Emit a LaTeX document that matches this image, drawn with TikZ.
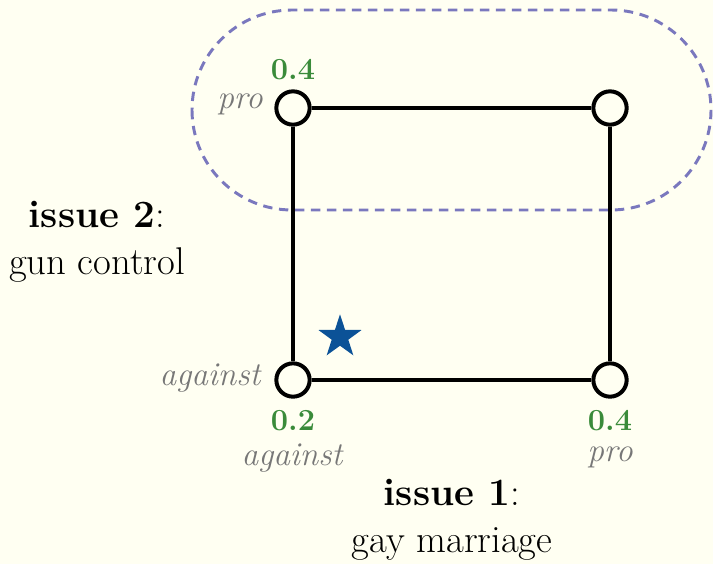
\documentclass[tikz,border=0pt]{standalone}
\usetikzlibrary{shapes.geometric}
\definecolor{bgc}{HTML}{FFFFF2}
\definecolor{grn}{HTML}{3A8B3A}
\definecolor{gry}{HTML}{777777}
\definecolor{dsh}{HTML}{7A78BE}
\definecolor{strc}{HTML}{0B5297}
\begin{document}
\begin{tikzpicture}[x=0.75pt,y=-0.75pt,
  vtx/.style={circle,draw=black,fill=bgc,line width=3pt,minimum size=25pt,inner sep=0pt},
  edge/.style={line width=3pt},
  val/.style={text=grn,inner sep=0pt,font=\fontsize{23}{26}\selectfont\bfseries},
  side/.style={text=gry,inner sep=0pt,font=\fontsize{25}{28}\selectfont\itshape},
  lbl/.style={font=\fontsize{29}{35}\selectfont,align=center}]
\fill[bgc] (0,0) rectangle (713,564);
\useasboundingbox (0,0) rectangle (713,564);
\draw[dsh,line width=2.2pt,dash pattern=on 7pt off 5pt,rounded corners=75pt] (192,10) rectangle (711,210);
\node[vtx] (a) at (293,108) {};
\node[vtx] (b) at (610,108) {};
\node[vtx] (c) at (293,380) {};
\node[vtx] (d) at (610,380) {};
\draw[edge] (a) -- (b);
\draw[edge] (a) -- (c);
\draw[edge] (c) -- (d);
\draw[edge] (b) -- (d);
\node[star,star points=5,star point ratio=2.6,fill=strc,minimum size=34pt,inner sep=0pt] (s) at (340,337) {};
\node[val] (va) at (293,70) {0.4};
\node[side] (pa) at (240,104) {pro};
\node[side] (pc) at (210,378) {against};
\node[val] (vc) at (293,421) {0.2};
\node[side] (ac) at (292,458) {against};
\node[val] (vd) at (610,421) {0.4};
\node[side] (pd) at (610,457) {pro};
\node[lbl] (i2) at (97,242) {\textbf{issue 2}:\\gun control};
\node[lbl] (i1) at (452,520) {\textbf{issue 1}:\\gay marriage};
\end{tikzpicture}
\end{document}
